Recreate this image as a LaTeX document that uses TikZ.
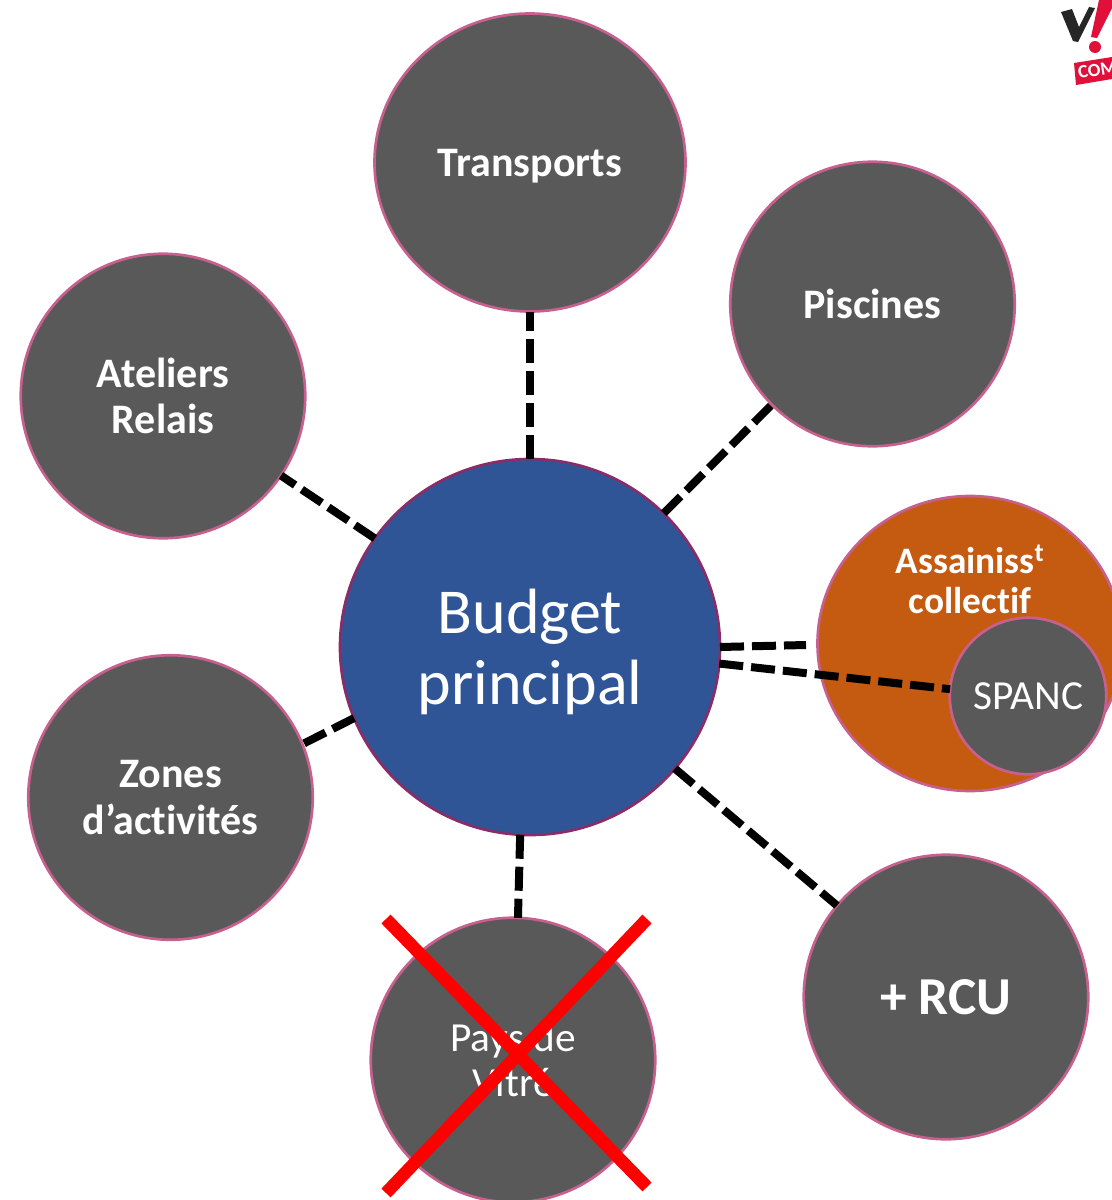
\documentclass[tikz,border=0pt]{standalone}
\usepackage{fontspec}
\setmainfont{Carlito}[Ligatures=NoCommon]
\usetikzlibrary{shapes.geometric}
\definecolor{gris}{HTML}{595959}
\definecolor{rose}{HTML}{C8608F}
\definecolor{bleu}{HTML}{2F5597}
\definecolor{prune}{HTML}{8A2C68}
\definecolor{orange}{HTML}{C55A11}
\definecolor{logorouge}{HTML}{E0103A}
\tikzset{
  bulle/.style={ellipse,draw=rose,line width=2pt,fill=gris,text=white,inner sep=0pt,outer sep=0pt,
    minimum width=284.5*0.75pt,minimum height=284.5*0.75pt,align=center,
    font=\fontsize{31.5}{35}\selectfont\bfseries},
  fin/.style={font=\fontsize{31}{34}\selectfont},
  lien/.style={line width=6pt,dash pattern=on 18pt off 6pt},
  croix/.style={red,line width=9.5pt},
}
\begin{document}
\begin{tikzpicture}[x=0.75pt,y=-0.75pt]
\useasboundingbox (0,0) rectangle (1112,1200);
% les bulles
\node [bulle,text depth=0pt,minimum width=311*0.75pt,minimum height=298*0.75pt] (transports) at (530,162.5) {Transports};
\node [bulle] (piscines) at (872.5,304) {Piscines};
\node [bulle] (ateliers) at (163,396) {Ateliers\\Relais};
\node [bulle] (zones) at (170.5,797.5) {Zones\\d’activités};
\node [bulle,fin] (pays) at (513,1060) {Pays de\\Vitré};
\node [bulle,font=\fontsize{40}{44}\selectfont\bfseries] (rcu) at (946,997) {+ RCU};
\node [bulle,fill=orange,minimum width=305*0.75pt,minimum height=295*0.75pt] (assainiss) at (970,643.5) {};
\node [text=white,align=center,font=\fontsize{28}{30}\selectfont\bfseries] (assainissTxt) at (970,579) {Assainiss\textsuperscript{t}\\collectif};
\node [bulle,fin,minimum width=156.5*0.75pt,minimum height=156.5*0.75pt] (spanc) at (1028,696) {SPANC};
\node [bulle,fill=bleu,draw=prune,text depth=0pt,minimum width=380*0.75pt,minimum height=376*0.75pt,
  font=\fontsize{48}{53}\selectfont] (budget) at (530,647) {Budget\\principal};
% les liens
\coordinate (assainissFin) at (806,645);
\draw [lien] (budget.0) -- (assainissFin);
\draw [lien] (budget.-5.5) -- (spanc.175);
\draw [lien] (budget.90) -- (transports.south);
\draw [lien] (budget.45) -- (piscines.225);
\draw [lien] (budget.145) -- (ateliers.-34);
\draw [lien] (budget.202.6) -- (zones.22);
\draw [lien] (budget.267.5) -- (pays.88);
\draw [lien] (budget.-40) -- (rcu.140);
% la croix
\coordinate (c1) at (386,919);
\coordinate (c2) at (647,1187);
\coordinate (c3) at (647,919);
\coordinate (c4) at (386,1193);
\draw [croix] (c1) -- (c2);
\draw [croix] (c3) -- (c4);
% le logo
\fill [black!85] (1061,12) -- (1072,9) -- (1079,27) -- (1089,7) -- (1095,8) -- (1078,42) -- (1073,41) -- cycle;
\fill [logorouge] (1099,0) -- (1112,0) -- (1112,8) -- (1097,38) -- (1091,37) -- cycle;
\fill [logorouge] (1095,47) circle (6);
\fill [logorouge] (1074,63) -- (1112,57) -- (1112,79) -- (1076,85) -- cycle;
\node [rotate=9,anchor=west,inner sep=0pt,text=white,font=\fontsize{14}{16}\selectfont\bfseries] (com) at (1078,73) {COM};
\end{tikzpicture}
\end{document}
